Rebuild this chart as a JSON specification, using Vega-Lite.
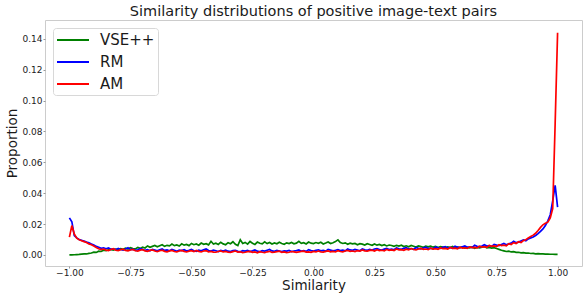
{
  "$schema": "https://vega.github.io/schema/vega-lite/v6.json",
  "autosize": {"type": "none"},
  "width": 537,
  "height": 246,
  "padding": {"left": 45, "top": 20, "right": 4, "bottom": 33},
  "title": {"text": "Similarity distributions of positive image-text pairs", "fontSize": 14.5, "font": "DejaVu Sans", "fontWeight": "normal", "color": "#1a1a1a", "anchor": "middle", "frame": "group", "baseline": "alphabetic", "offset": 3.5, "dy": 14},
  "data": {"values": [
{"x":-1.00,"VSE++":0.0000,"RM":0.0240,"AM":0.0115},
{"x":-0.99,"VSE++":0.0000,"RM":0.0215,"AM":0.0190},
{"x":-0.98,"VSE++":0.0001,"RM":0.0125,"AM":0.0135},
{"x":-0.97,"VSE++":0.0002,"RM":0.0110,"AM":0.0108},
{"x":-0.96,"VSE++":0.0003,"RM":0.0100,"AM":0.0098},
{"x":-0.95,"VSE++":0.0005,"RM":0.0094,"AM":0.0092},
{"x":-0.94,"VSE++":0.0007,"RM":0.0090,"AM":0.0086},
{"x":-0.93,"VSE++":0.0006,"RM":0.0083,"AM":0.0080},
{"x":-0.92,"VSE++":0.0010,"RM":0.0079,"AM":0.0071},
{"x":-0.91,"VSE++":0.0012,"RM":0.0070,"AM":0.0066},
{"x":-0.90,"VSE++":0.0018,"RM":0.0064,"AM":0.0058},
{"x":-0.89,"VSE++":0.0016,"RM":0.0055,"AM":0.0048},
{"x":-0.88,"VSE++":0.0024,"RM":0.0050,"AM":0.0040},
{"x":-0.87,"VSE++":0.0022,"RM":0.0043,"AM":0.0034},
{"x":-0.86,"VSE++":0.0030,"RM":0.0046,"AM":0.0038},
{"x":-0.85,"VSE++":0.0027,"RM":0.0040,"AM":0.0031},
{"x":-0.84,"VSE++":0.0033,"RM":0.0045,"AM":0.0028},
{"x":-0.83,"VSE++":0.0036,"RM":0.0036,"AM":0.0035},
{"x":-0.82,"VSE++":0.0031,"RM":0.0039,"AM":0.0040},
{"x":-0.81,"VSE++":0.0038,"RM":0.0034,"AM":0.0030},
{"x":-0.80,"VSE++":0.0034,"RM":0.0042,"AM":0.0027},
{"x":-0.79,"VSE++":0.0040,"RM":0.0035,"AM":0.0034},
{"x":-0.78,"VSE++":0.0036,"RM":0.0031,"AM":0.0037},
{"x":-0.77,"VSE++":0.0043,"RM":0.0038,"AM":0.0029},
{"x":-0.76,"VSE++":0.0038,"RM":0.0046,"AM":0.0026},
{"x":-0.75,"VSE++":0.0046,"RM":0.0034,"AM":0.0032},
{"x":-0.74,"VSE++":0.0041,"RM":0.0037,"AM":0.0035},
{"x":-0.73,"VSE++":0.0039,"RM":0.0030,"AM":0.0027},
{"x":-0.72,"VSE++":0.0048,"RM":0.0033,"AM":0.0024},
{"x":-0.71,"VSE++":0.0042,"RM":0.0040,"AM":0.0031},
{"x":-0.70,"VSE++":0.0050,"RM":0.0036,"AM":0.0034},
{"x":-0.69,"VSE++":0.0045,"RM":0.0029,"AM":0.0026},
{"x":-0.68,"VSE++":0.0058,"RM":0.0034,"AM":0.0023},
{"x":-0.67,"VSE++":0.0049,"RM":0.0027,"AM":0.0029},
{"x":-0.66,"VSE++":0.0055,"RM":0.0036,"AM":0.0032},
{"x":-0.65,"VSE++":0.0061,"RM":0.0031,"AM":0.0025},
{"x":-0.64,"VSE++":0.0052,"RM":0.0026,"AM":0.0021},
{"x":-0.63,"VSE++":0.0059,"RM":0.0033,"AM":0.0027},
{"x":-0.62,"VSE++":0.0066,"RM":0.0038,"AM":0.0030},
{"x":-0.61,"VSE++":0.0055,"RM":0.0029,"AM":0.0023},
{"x":-0.60,"VSE++":0.0062,"RM":0.0032,"AM":0.0020},
{"x":-0.59,"VSE++":0.0058,"RM":0.0027,"AM":0.0026},
{"x":-0.58,"VSE++":0.0070,"RM":0.0035,"AM":0.0029},
{"x":-0.57,"VSE++":0.0060,"RM":0.0030,"AM":0.0022},
{"x":-0.56,"VSE++":0.0064,"RM":0.0024,"AM":0.0020},
{"x":-0.55,"VSE++":0.0057,"RM":0.0031,"AM":0.0025},
{"x":-0.54,"VSE++":0.0072,"RM":0.0028,"AM":0.0029},
{"x":-0.53,"VSE++":0.0063,"RM":0.0034,"AM":0.0023},
{"x":-0.52,"VSE++":0.0068,"RM":0.0025,"AM":0.0019},
{"x":-0.51,"VSE++":0.0060,"RM":0.0030,"AM":0.0024},
{"x":-0.50,"VSE++":0.0074,"RM":0.0036,"AM":0.0027},
{"x":-0.49,"VSE++":0.0066,"RM":0.0027,"AM":0.0021},
{"x":-0.48,"VSE++":0.0071,"RM":0.0023,"AM":0.0029},
{"x":-0.47,"VSE++":0.0063,"RM":0.0030,"AM":0.0023},
{"x":-0.46,"VSE++":0.0077,"RM":0.0026,"AM":0.0019},
{"x":-0.45,"VSE++":0.0069,"RM":0.0033,"AM":0.0025},
{"x":-0.44,"VSE++":0.0073,"RM":0.0039,"AM":0.0027},
{"x":-0.43,"VSE++":0.0065,"RM":0.0028,"AM":0.0020},
{"x":-0.42,"VSE++":0.0088,"RM":0.0025,"AM":0.0023},
{"x":-0.41,"VSE++":0.0070,"RM":0.0031,"AM":0.0018},
{"x":-0.40,"VSE++":0.0076,"RM":0.0027,"AM":0.0017},
{"x":-0.39,"VSE++":0.0068,"RM":0.0022,"AM":0.0022},
{"x":-0.38,"VSE++":0.0082,"RM":0.0029,"AM":0.0026},
{"x":-0.37,"VSE++":0.0071,"RM":0.0025,"AM":0.0019},
{"x":-0.36,"VSE++":0.0066,"RM":0.0031,"AM":0.0022},
{"x":-0.35,"VSE++":0.0079,"RM":0.0024,"AM":0.0017},
{"x":-0.34,"VSE++":0.0072,"RM":0.0021,"AM":0.0016},
{"x":-0.33,"VSE++":0.0085,"RM":0.0028,"AM":0.0021},
{"x":-0.32,"VSE++":0.0069,"RM":0.0030,"AM":0.0025},
{"x":-0.31,"VSE++":0.0061,"RM":0.0023,"AM":0.0018},
{"x":-0.30,"VSE++":0.0098,"RM":0.0020,"AM":0.0020},
{"x":-0.29,"VSE++":0.0074,"RM":0.0027,"AM":0.0015},
{"x":-0.28,"VSE++":0.0081,"RM":0.0024,"AM":0.0017},
{"x":-0.27,"VSE++":0.0070,"RM":0.0029,"AM":0.0021},
{"x":-0.26,"VSE++":0.0087,"RM":0.0022,"AM":0.0023},
{"x":-0.25,"VSE++":0.0076,"RM":0.0026,"AM":0.0017},
{"x":-0.24,"VSE++":0.0068,"RM":0.0032,"AM":0.0019},
{"x":-0.23,"VSE++":0.0083,"RM":0.0024,"AM":0.0014},
{"x":-0.22,"VSE++":0.0075,"RM":0.0020,"AM":0.0021},
{"x":-0.21,"VSE++":0.0071,"RM":0.0027,"AM":0.0017},
{"x":-0.20,"VSE++":0.0084,"RM":0.0025,"AM":0.0015},
{"x":-0.19,"VSE++":0.0073,"RM":0.0030,"AM":0.0020},
{"x":-0.18,"VSE++":0.0080,"RM":0.0035,"AM":0.0023},
{"x":-0.17,"VSE++":0.0070,"RM":0.0026,"AM":0.0016},
{"x":-0.16,"VSE++":0.0077,"RM":0.0023,"AM":0.0018},
{"x":-0.15,"VSE++":0.0072,"RM":0.0029,"AM":0.0021},
{"x":-0.14,"VSE++":0.0082,"RM":0.0025,"AM":0.0024},
{"x":-0.13,"VSE++":0.0074,"RM":0.0021,"AM":0.0017},
{"x":-0.12,"VSE++":0.0069,"RM":0.0026,"AM":0.0019},
{"x":-0.11,"VSE++":0.0078,"RM":0.0024,"AM":0.0015},
{"x":-0.10,"VSE++":0.0073,"RM":0.0029,"AM":0.0017},
{"x":-0.09,"VSE++":0.0081,"RM":0.0022,"AM":0.0022},
{"x":-0.08,"VSE++":0.0072,"RM":0.0025,"AM":0.0020},
{"x":-0.07,"VSE++":0.0076,"RM":0.0028,"AM":0.0016},
{"x":-0.06,"VSE++":0.0088,"RM":0.0032,"AM":0.0019},
{"x":-0.05,"VSE++":0.0075,"RM":0.0024,"AM":0.0023},
{"x":-0.04,"VSE++":0.0079,"RM":0.0027,"AM":0.0024},
{"x":-0.03,"VSE++":0.0071,"RM":0.0023,"AM":0.0018},
{"x":-0.02,"VSE++":0.0083,"RM":0.0034,"AM":0.0020},
{"x":-0.01,"VSE++":0.0076,"RM":0.0028,"AM":0.0016},
{"x":0.00,"VSE++":0.0073,"RM":0.0025,"AM":0.0022},
{"x":0.01,"VSE++":0.0080,"RM":0.0030,"AM":0.0019},
{"x":0.02,"VSE++":0.0075,"RM":0.0033,"AM":0.0025},
{"x":0.03,"VSE++":0.0082,"RM":0.0026,"AM":0.0020},
{"x":0.04,"VSE++":0.0071,"RM":0.0029,"AM":0.0018},
{"x":0.05,"VSE++":0.0077,"RM":0.0024,"AM":0.0023},
{"x":0.06,"VSE++":0.0084,"RM":0.0036,"AM":0.0026},
{"x":0.07,"VSE++":0.0074,"RM":0.0031,"AM":0.0020},
{"x":0.08,"VSE++":0.0079,"RM":0.0027,"AM":0.0023},
{"x":0.09,"VSE++":0.0086,"RM":0.0030,"AM":0.0019},
{"x":0.10,"VSE++":0.0097,"RM":0.0034,"AM":0.0027},
{"x":0.11,"VSE++":0.0080,"RM":0.0028,"AM":0.0022},
{"x":0.12,"VSE++":0.0074,"RM":0.0031,"AM":0.0020},
{"x":0.13,"VSE++":0.0078,"RM":0.0026,"AM":0.0025},
{"x":0.14,"VSE++":0.0069,"RM":0.0038,"AM":0.0029},
{"x":0.15,"VSE++":0.0076,"RM":0.0032,"AM":0.0023},
{"x":0.16,"VSE++":0.0071,"RM":0.0029,"AM":0.0025},
{"x":0.17,"VSE++":0.0074,"RM":0.0035,"AM":0.0021},
{"x":0.18,"VSE++":0.0066,"RM":0.0031,"AM":0.0028},
{"x":0.19,"VSE++":0.0073,"RM":0.0027,"AM":0.0024},
{"x":0.20,"VSE++":0.0070,"RM":0.0039,"AM":0.0032},
{"x":0.21,"VSE++":0.0064,"RM":0.0033,"AM":0.0026},
{"x":0.22,"VSE++":0.0072,"RM":0.0030,"AM":0.0024},
{"x":0.23,"VSE++":0.0067,"RM":0.0036,"AM":0.0029},
{"x":0.24,"VSE++":0.0062,"RM":0.0032,"AM":0.0031},
{"x":0.25,"VSE++":0.0071,"RM":0.0038,"AM":0.0025},
{"x":0.26,"VSE++":0.0063,"RM":0.0041,"AM":0.0034},
{"x":0.27,"VSE++":0.0068,"RM":0.0034,"AM":0.0028},
{"x":0.28,"VSE++":0.0060,"RM":0.0031,"AM":0.0030},
{"x":0.29,"VSE++":0.0066,"RM":0.0037,"AM":0.0026},
{"x":0.30,"VSE++":0.0058,"RM":0.0042,"AM":0.0036},
{"x":0.31,"VSE++":0.0064,"RM":0.0035,"AM":0.0030},
{"x":0.32,"VSE++":0.0061,"RM":0.0038,"AM":0.0032},
{"x":0.33,"VSE++":0.0055,"RM":0.0033,"AM":0.0028},
{"x":0.34,"VSE++":0.0062,"RM":0.0045,"AM":0.0038},
{"x":0.35,"VSE++":0.0057,"RM":0.0039,"AM":0.0032},
{"x":0.36,"VSE++":0.0063,"RM":0.0036,"AM":0.0034},
{"x":0.37,"VSE++":0.0054,"RM":0.0042,"AM":0.0030},
{"x":0.38,"VSE++":0.0059,"RM":0.0047,"AM":0.0037},
{"x":0.39,"VSE++":0.0053,"RM":0.0038,"AM":0.0033},
{"x":0.40,"VSE++":0.0061,"RM":0.0041,"AM":0.0041},
{"x":0.41,"VSE++":0.0056,"RM":0.0036,"AM":0.0035},
{"x":0.42,"VSE++":0.0051,"RM":0.0048,"AM":0.0033},
{"x":0.43,"VSE++":0.0058,"RM":0.0042,"AM":0.0038},
{"x":0.44,"VSE++":0.0054,"RM":0.0039,"AM":0.0042},
{"x":0.45,"VSE++":0.0049,"RM":0.0045,"AM":0.0036},
{"x":0.46,"VSE++":0.0056,"RM":0.0050,"AM":0.0038},
{"x":0.47,"VSE++":0.0052,"RM":0.0041,"AM":0.0034},
{"x":0.48,"VSE++":0.0057,"RM":0.0044,"AM":0.0044},
{"x":0.49,"VSE++":0.0050,"RM":0.0039,"AM":0.0038},
{"x":0.50,"VSE++":0.0055,"RM":0.0051,"AM":0.0040},
{"x":0.51,"VSE++":0.0048,"RM":0.0046,"AM":0.0036},
{"x":0.52,"VSE++":0.0053,"RM":0.0043,"AM":0.0045},
{"x":0.53,"VSE++":0.0050,"RM":0.0049,"AM":0.0040},
{"x":0.54,"VSE++":0.0046,"RM":0.0054,"AM":0.0042},
{"x":0.55,"VSE++":0.0052,"RM":0.0045,"AM":0.0038},
{"x":0.56,"VSE++":0.0048,"RM":0.0048,"AM":0.0048},
{"x":0.57,"VSE++":0.0054,"RM":0.0043,"AM":0.0042},
{"x":0.58,"VSE++":0.0045,"RM":0.0056,"AM":0.0044},
{"x":0.59,"VSE++":0.0050,"RM":0.0050,"AM":0.0040},
{"x":0.60,"VSE++":0.0047,"RM":0.0047,"AM":0.0050},
{"x":0.61,"VSE++":0.0052,"RM":0.0053,"AM":0.0044},
{"x":0.62,"VSE++":0.0044,"RM":0.0058,"AM":0.0046},
{"x":0.63,"VSE++":0.0049,"RM":0.0049,"AM":0.0042},
{"x":0.64,"VSE++":0.0046,"RM":0.0052,"AM":0.0052},
{"x":0.65,"VSE++":0.0051,"RM":0.0047,"AM":0.0047},
{"x":0.66,"VSE++":0.0043,"RM":0.0062,"AM":0.0049},
{"x":0.67,"VSE++":0.0048,"RM":0.0055,"AM":0.0045},
{"x":0.68,"VSE++":0.0045,"RM":0.0052,"AM":0.0056},
{"x":0.69,"VSE++":0.0050,"RM":0.0058,"AM":0.0050},
{"x":0.70,"VSE++":0.0054,"RM":0.0066,"AM":0.0053},
{"x":0.71,"VSE++":0.0046,"RM":0.0057,"AM":0.0049},
{"x":0.72,"VSE++":0.0049,"RM":0.0060,"AM":0.0061},
{"x":0.73,"VSE++":0.0044,"RM":0.0055,"AM":0.0055},
{"x":0.74,"VSE++":0.0047,"RM":0.0068,"AM":0.0058},
{"x":0.75,"VSE++":0.0041,"RM":0.0063,"AM":0.0054},
{"x":0.76,"VSE++":0.0036,"RM":0.0060,"AM":0.0066},
{"x":0.77,"VSE++":0.0030,"RM":0.0067,"AM":0.0060},
{"x":0.78,"VSE++":0.0026,"RM":0.0074,"AM":0.0063},
{"x":0.79,"VSE++":0.0022,"RM":0.0066,"AM":0.0059},
{"x":0.80,"VSE++":0.0024,"RM":0.0071,"AM":0.0073},
{"x":0.81,"VSE++":0.0019,"RM":0.0076,"AM":0.0067},
{"x":0.82,"VSE++":0.0021,"RM":0.0088,"AM":0.0079},
{"x":0.83,"VSE++":0.0016,"RM":0.0079,"AM":0.0074},
{"x":0.84,"VSE++":0.0017,"RM":0.0083,"AM":0.0085},
{"x":0.85,"VSE++":0.0013,"RM":0.0090,"AM":0.0080},
{"x":0.86,"VSE++":0.0015,"RM":0.0097,"AM":0.0093},
{"x":0.87,"VSE++":0.0011,"RM":0.0092,"AM":0.0098},
{"x":0.88,"VSE++":0.0012,"RM":0.0104,"AM":0.0110},
{"x":0.89,"VSE++":0.0009,"RM":0.0110,"AM":0.0120},
{"x":0.90,"VSE++":0.0010,"RM":0.0116,"AM":0.0128},
{"x":0.91,"VSE++":0.0007,"RM":0.0126,"AM":0.0140},
{"x":0.92,"VSE++":0.0008,"RM":0.0138,"AM":0.0158},
{"x":0.93,"VSE++":0.0006,"RM":0.0152,"AM":0.0178},
{"x":0.94,"VSE++":0.0006,"RM":0.0168,"AM":0.0195},
{"x":0.95,"VSE++":0.0005,"RM":0.0190,"AM":0.0205},
{"x":0.96,"VSE++":0.0005,"RM":0.0220,"AM":0.0212},
{"x":0.97,"VSE++":0.0004,"RM":0.0260,"AM":0.0240},
{"x":0.98,"VSE++":0.0004,"RM":0.0350,"AM":0.0300},
{"x":0.99,"VSE++":0.0003,"RM":0.0450,"AM":0.0850},
{"x":1.00,"VSE++":0.0003,"RM":0.0310,"AM":0.1440}
  ]},
  "transform": [{"fold": ["VSE++", "RM", "AM"], "as": ["series", "value"]}],
  "mark": {"type": "line", "strokeWidth": 1.7, "interpolate": "linear"},
  "encoding": {
    "x": {"field": "x", "type": "quantitative",
      "scale": {"domain": [-1.1, 1.1], "nice": false, "zero": false},
      "axis": {"title": "Similarity", "values": [-1, -0.75, -0.5, -0.25, 0, 0.25, 0.5, 0.75, 1], "format": ".2f", "titlePadding": 1, "labelPadding": 0}},
    "y": {"field": "value", "type": "quantitative",
      "scale": {"domain": [-0.0072, 0.1522], "nice": false, "zero": false},
      "axis": {"title": "Proportion", "values": [0, 0.02, 0.04, 0.06, 0.08, 0.1, 0.12, 0.14], "format": ".2f", "titlePadding": 2, "labelPadding": 1}},
    "color": {"field": "series", "type": "nominal",
      "scale": {"domain": ["VSE++", "RM", "AM"], "range": ["#008000", "#0000ff", "#ff0000"]},
      "legend": {"title": null, "orient": "none", "legendX": 8, "legendY": 8, "symbolType": "M-1,0H3", "symbolSize": 256, "symbolStrokeWidth": 2, "symbolFillColor": "transparent", "labelFontSize": 15, "labelFont": "DejaVu Sans", "labelColor": "#1a1a1a", "labelOffset": 26, "rowPadding": 5, "padding": 3, "fillColor": "white", "strokeColor": "#d8d8d8", "cornerRadius": 3}}
  },
  "config": {
    "font": "DejaVu Sans",
    "view": {"stroke": "#cccccc", "strokeWidth": 1},
    "axis": {"grid": false, "domain": false, "tickSize": 2, "tickColor": "#999999", "labelFontSize": 9, "labelColor": "#222222", "labelFont": "DejaVu Sans", "titleFont": "DejaVu Sans", "titleFontSize": 13.5, "titleFontWeight": "normal", "titleColor": "#1a1a1a"}
  }
}
